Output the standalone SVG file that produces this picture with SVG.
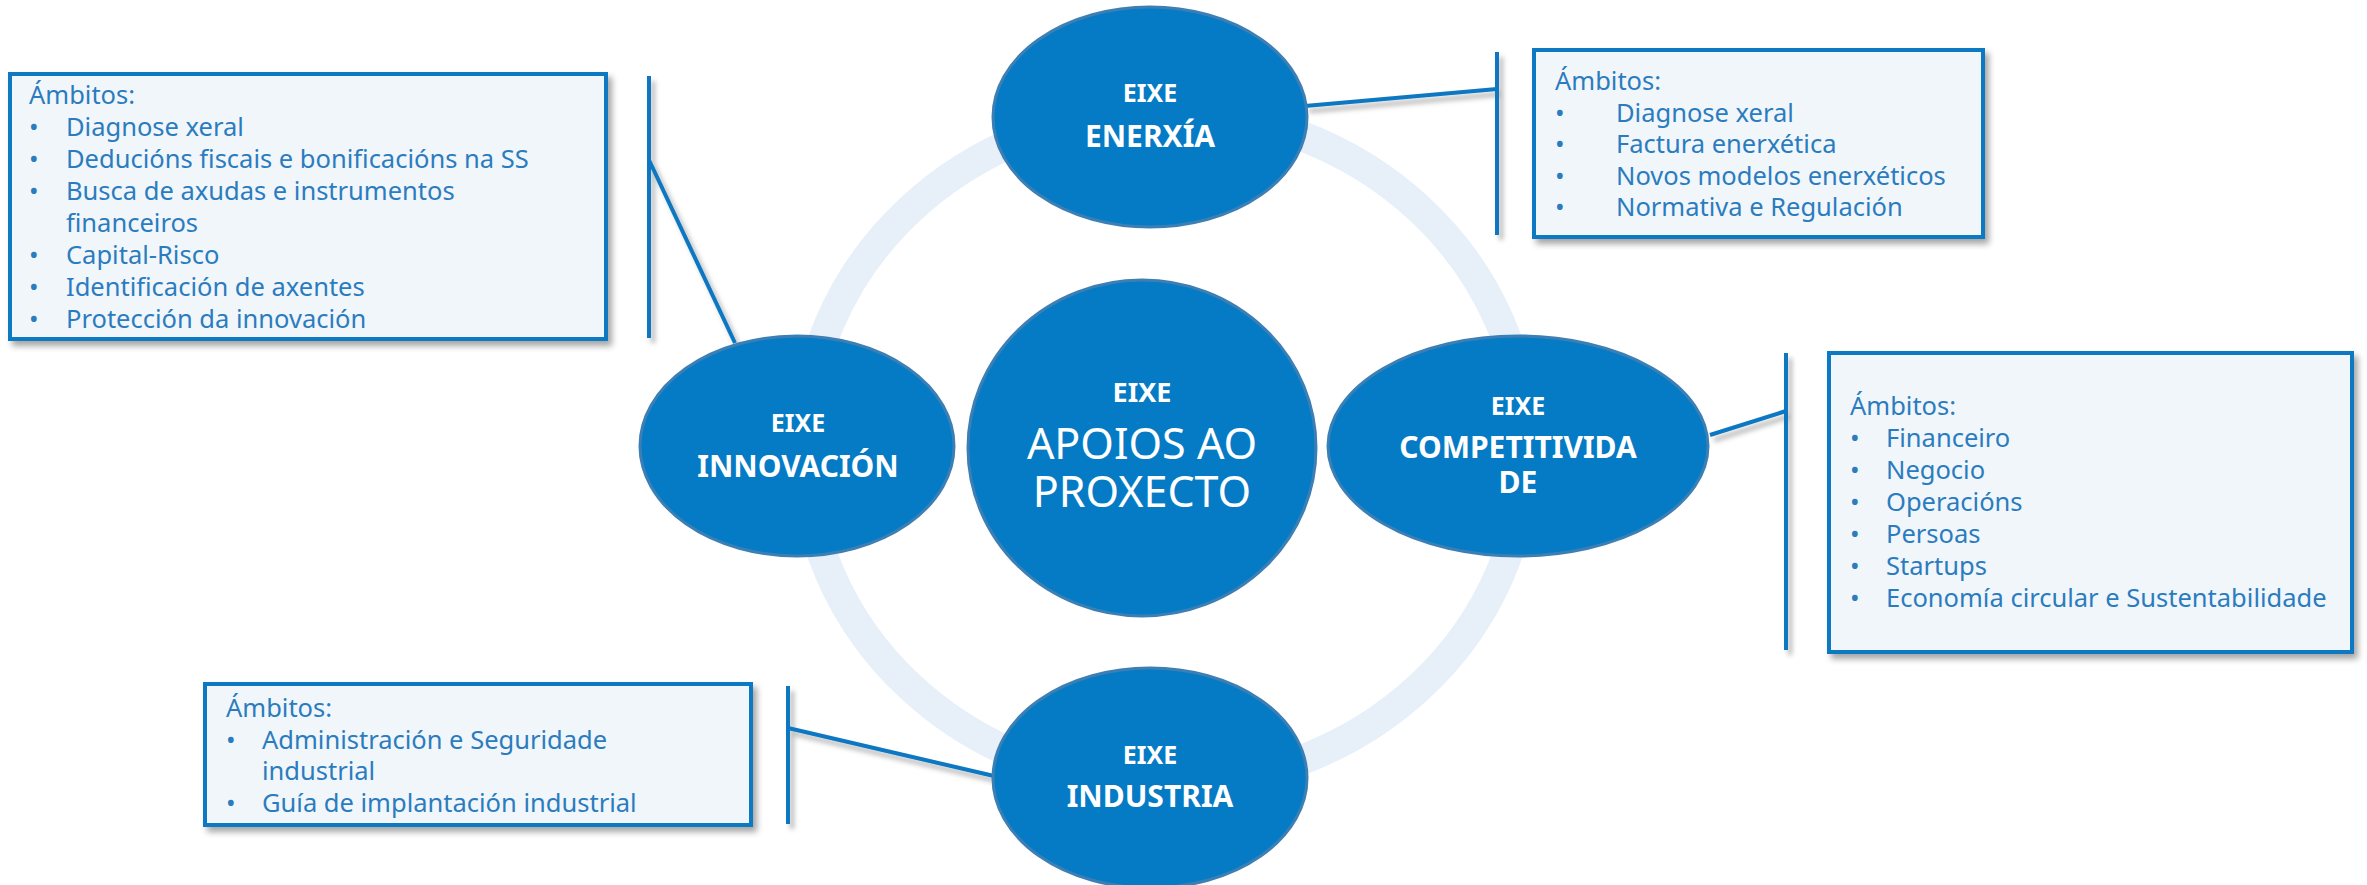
<svg xmlns="http://www.w3.org/2000/svg" width="2367" height="885" viewBox="0 0 2367 885">
  <defs>
    <filter id="shadow" x="-10%" y="-10%" width="130%" height="130%">
      <feDropShadow dx="4" dy="5" stdDeviation="3" flood-color="#000" flood-opacity="0.35"/>
    </filter>
    <filter id="lshadow" x="-20%" y="-20%" width="150%" height="150%">
      <feDropShadow dx="4" dy="5" stdDeviation="2.5" flood-color="#000" flood-opacity="0.3"/>
    </filter>
    <style>
      .node { fill: #067bc5; stroke: #3c7fb5; stroke-width: 3; }
      .lbl { font-family: "Noto Sans", "Open Sans", sans-serif; fill: #ffffff; text-anchor: middle; }
      .eixe { font-size: 25px; font-weight: bold; }
      .big { font-size: 30px; font-weight: bold; }
      .box { fill: #f1f6fb; stroke: #0a79c3; stroke-width: 4; }
      .bt { font-family: "Noto Sans", "Open Sans", sans-serif; font-size: 25.5px; fill: #2b7cbe; }
      .conn { stroke: #0a77c2; stroke-width: 4; fill: none; }
    </style>
  </defs>
  <rect width="2367" height="885" fill="#ffffff"/>

  <!-- background ring -->
  <ellipse id="ring" cx="1165" cy="448" rx="361" ry="337" fill="none" stroke="#e7eff9" stroke-width="30"/>

  <!-- connectors -->
  <g id="connectors" filter="url(#lshadow)">
    <line class="conn" x1="649" y1="76" x2="649" y2="338"/>
    <line class="conn" x1="649" y1="160" x2="735" y2="343"/>
    <line class="conn" x1="1497" y1="52" x2="1497" y2="235"/>
    <line class="conn" x1="1305" y1="106" x2="1497" y2="89"/>
    <line class="conn" x1="1786" y1="353" x2="1786" y2="650"/>
    <line class="conn" x1="1710" y1="435" x2="1786" y2="411"/>
    <line class="conn" x1="788" y1="686" x2="788" y2="824"/>
    <line class="conn" x1="788" y1="728" x2="994" y2="776"/>
  </g>

  <!-- central node -->
  <g id="node-apoios">
    <ellipse class="node" cx="1142" cy="448" rx="174" ry="168"/>
    <text class="lbl" x="1142" y="402" font-size="27" font-weight="bold">EIXE</text>
    <text class="lbl" x="1142" y="459" font-size="43">APOIOS AO</text>
    <text class="lbl" x="1142" y="507" font-size="43">PROXECTO</text>
  </g>

  <g id="node-enerxia">
    <ellipse class="node" cx="1150" cy="117" rx="157" ry="110"/>
    <text class="lbl eixe" x="1150" y="102">EIXE</text>
    <text class="lbl big" x="1150" y="147">ENERXÍA</text>
  </g>

  <g id="node-innovacion">
    <ellipse class="node" cx="797" cy="446" rx="157" ry="110"/>
    <text class="lbl eixe" x="798" y="432">EIXE</text>
    <text class="lbl big" x="798" y="477">INNOVACIÓN</text>
  </g>

  <g id="node-competitividade">
    <ellipse class="node" cx="1518" cy="446" rx="190" ry="110"/>
    <text class="lbl eixe" x="1518" y="415">EIXE</text>
    <text class="lbl big" x="1518" y="458">COMPETITIVIDA</text>
    <text class="lbl big" x="1518" y="493">DE</text>
  </g>

  <g id="node-industria">
    <ellipse class="node" cx="1150" cy="778" rx="157" ry="110"/>
    <text class="lbl eixe" x="1150" y="764">EIXE</text>
    <text class="lbl big" x="1150" y="807">INDUSTRIA</text>
  </g>

  <!-- boxes -->
  <g id="box-innovacion">
    <rect class="box" x="10" y="74" width="596" height="265" filter="url(#shadow)"/>
    <text class="bt" x="29" y="104">Ámbitos:</text>
    <text class="bt" x="29" y="136">•</text><text class="bt" x="66" y="136">Diagnose xeral</text>
    <text class="bt" x="29" y="168">•</text><text class="bt" x="66" y="168">Deducións fiscais e bonificacións na SS</text>
    <text class="bt" x="29" y="200">•</text><text class="bt" x="66" y="200">Busca de axudas e instrumentos</text>
    <text class="bt" x="66" y="232">financeiros</text>
    <text class="bt" x="29" y="264">•</text><text class="bt" x="66" y="264">Capital-Risco</text>
    <text class="bt" x="29" y="296">•</text><text class="bt" x="66" y="296">Identificación de axentes</text>
    <text class="bt" x="29" y="328">•</text><text class="bt" x="66" y="328">Protección da innovación</text>
  </g>

  <g id="box-enerxia">
    <rect class="box" x="1534" y="50" width="449" height="187" filter="url(#shadow)"/>
    <text class="bt" x="1555" y="90">Ámbitos:</text>
    <text class="bt" x="1555" y="122">•</text><text class="bt" x="1616" y="122">Diagnose xeral</text>
    <text class="bt" x="1555" y="153">•</text><text class="bt" x="1616" y="153">Factura enerxética</text>
    <text class="bt" x="1555" y="185">•</text><text class="bt" x="1616" y="185">Novos modelos enerxéticos</text>
    <text class="bt" x="1555" y="216">•</text><text class="bt" x="1616" y="216">Normativa e Regulación</text>
  </g>

  <g id="box-competitividade">
    <rect class="box" x="1829" y="353" width="523" height="299" filter="url(#shadow)"/>
    <text class="bt" x="1850" y="415">Ámbitos:</text>
    <text class="bt" x="1850" y="447">•</text><text class="bt" x="1886" y="447">Financeiro</text>
    <text class="bt" x="1850" y="479">•</text><text class="bt" x="1886" y="479">Negocio</text>
    <text class="bt" x="1850" y="511">•</text><text class="bt" x="1886" y="511">Operacións</text>
    <text class="bt" x="1850" y="543">•</text><text class="bt" x="1886" y="543">Persoas</text>
    <text class="bt" x="1850" y="575">•</text><text class="bt" x="1886" y="575">Startups</text>
    <text class="bt" x="1850" y="607">•</text><text class="bt" x="1886" y="607">Economía circular e Sustentabilidade</text>
  </g>

  <g id="box-industria">
    <rect class="box" x="205" y="684" width="546" height="141" filter="url(#shadow)"/>
    <text class="bt" x="226" y="717">Ámbitos:</text>
    <text class="bt" x="226" y="749">•</text><text class="bt" x="262" y="749">Administración e Seguridade</text>
    <text class="bt" x="262" y="780">industrial</text>
    <text class="bt" x="226" y="812">•</text><text class="bt" x="262" y="812">Guía de implantación industrial</text>
  </g>
</svg>
